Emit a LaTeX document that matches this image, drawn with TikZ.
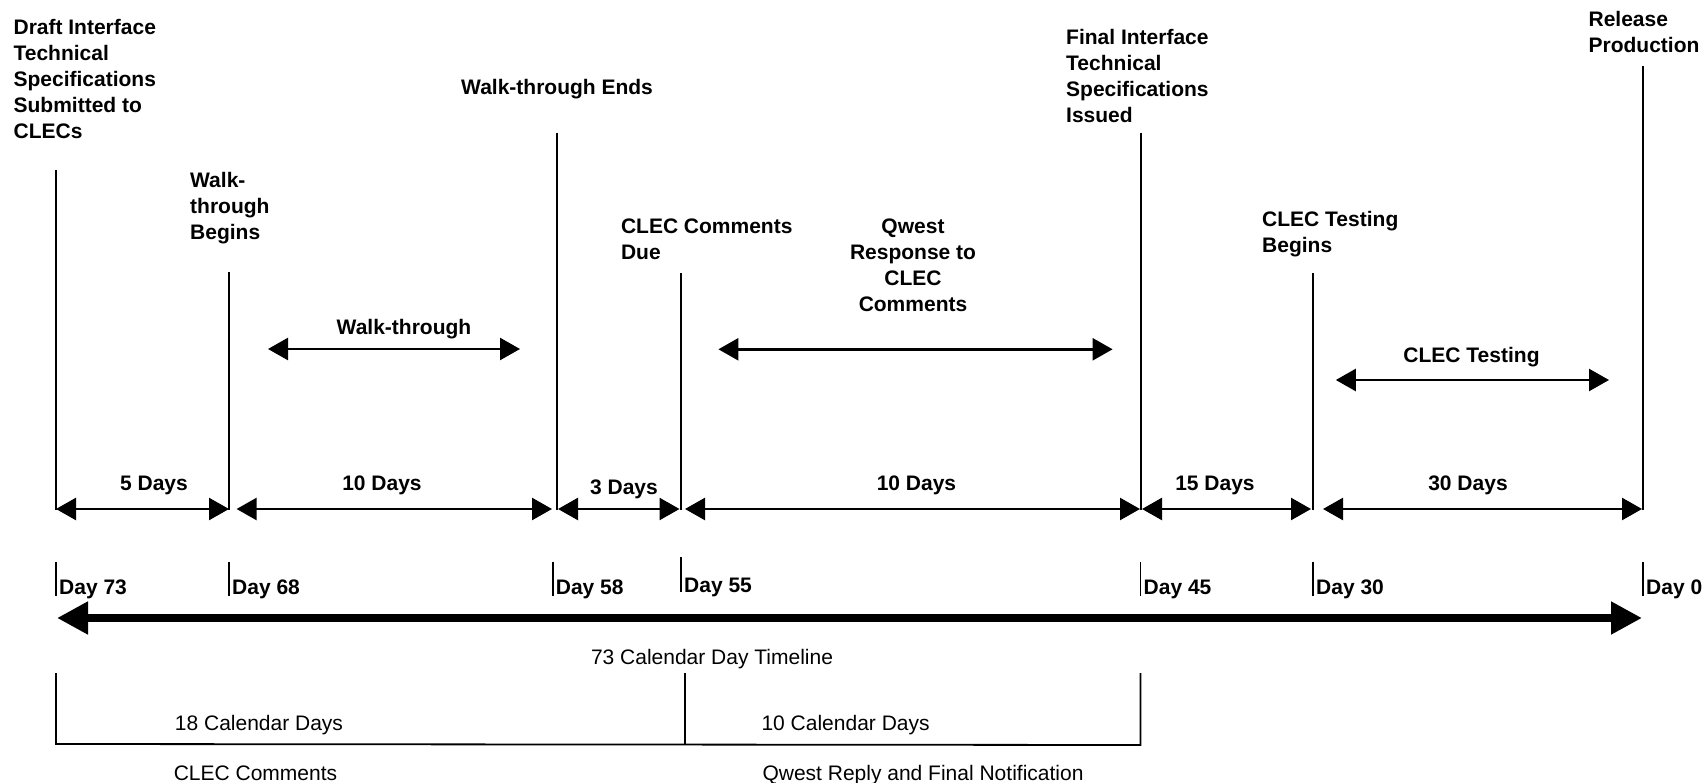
\documentclass[tikz,border=0pt]{standalone}
\usepackage{fontspec}
\setmainfont{Liberation Sans}
\usetikzlibrary{arrows.meta}
\begin{document}
\begin{tikzpicture}[x=1pt,y=-1pt,
  lbl/.style={font=\fontsize{21}{26}\selectfont\bfseries, inner sep=0pt},
  reg/.style={font=\fontsize{21}{26}\selectfont, inner sep=0pt},
  evline/.style={line width=2pt},
  brline/.style={line width=1.8pt},
  tickmark/.style={line width=1.6pt},
  dimarrow/.style={line width=2.5pt, {Triangle[length=20pt,width=22pt]}-{Triangle[length=20pt,width=22pt]}},
  timeline/.style={line width=8pt, {Triangle[length=31pt,width=31pt]}-{Triangle[length=31pt,width=31pt]}}
]
\useasboundingbox (0,0) rectangle (1708,783);

% event lines
\coordinate (e1t) at (56,170);    \coordinate (e1b) at (56,510);
\coordinate (e2t) at (229,272);   \coordinate (e2b) at (229,510);
\coordinate (e3t) at (556.5,133); \coordinate (e3b) at (556.5,510);
\coordinate (e4t) at (681,273);   \coordinate (e4b) at (681,510);
\coordinate (e5t) at (1140.5,133);\coordinate (e5b) at (1140.5,510);
\coordinate (e6t) at (1313,273);  \coordinate (e6b) at (1313,510);
\coordinate (e7t) at (1643,66);   \coordinate (e7b) at (1643,510);
\foreach \i in {1,...,7} \draw[evline] (e\i t) -- (e\i b);

% event labels
\node[lbl, anchor=north west, align=left] (draft) at (13.4,19) {Draft Interface\\Technical\\Specifications\\Submitted to\\CLECs};
\node[lbl, anchor=north west, align=left] (wtb) at (190,172) {Walk-\\through\\Begins};
\node[lbl, anchor=base west] (wte) at (461,94.8) {Walk-through Ends};
\node[lbl, anchor=north west, align=left] (due) at (620.8,219) {CLEC Comments\\Due};
\node[lbl, anchor=north, align=center] (qwest) at (913,219) {Qwest\\Response to\\CLEC\\Comments};
\node[lbl, anchor=north west, align=left] (final) at (1066,29) {Final Interface\\Technical\\Specifications\\Issued};
\node[lbl, anchor=north west, align=left] (ctb) at (1262,211.5) {CLEC Testing\\Begins};
\node[lbl, anchor=north west, align=left] (rel) at (1588.4,11.2) {Release\\Production};

% activity arrows
\node[lbl, anchor=base] (wtl) at (404,334.5) {Walk-through};
\coordinate (wa1) at (268,349);    \coordinate (wa2) at (520,349);
\draw[dimarrow] (wa1) -- (wa2);
\coordinate (qa1) at (718.4,349.3); \coordinate (qa2) at (1112.6,349.3);
\draw[dimarrow] (qa1) -- (qa2);
\node[lbl, anchor=base] (ctl) at (1471.5,362.5) {CLEC Testing};
\coordinate (ta1) at (1335.8,380); \coordinate (ta2) at (1609,380);
\draw[dimarrow] (ta1) -- (ta2);

% duration arrows
\coordinate (d1a) at (56,509);   \coordinate (d1b) at (229,509);
\coordinate (d2a) at (236.6,509);\coordinate (d2b) at (552,509);
\coordinate (d3a) at (558,509);  \coordinate (d3b) at (679.5,509);
\coordinate (d4a) at (685,509);  \coordinate (d4b) at (1140,509);
\coordinate (d5a) at (1142,509); \coordinate (d5b) at (1311,509);
\coordinate (d6a) at (1323,509); \coordinate (d6b) at (1642,509);
\foreach \i in {1,...,6} \draw[dimarrow] (d\i a) -- (d\i b);
\node[lbl, anchor=base] (l1) at (154,490.8) {5 Days};
\node[lbl, anchor=base] (l2) at (382,490.8) {10 Days};
\node[lbl, anchor=base] (l3) at (624,494.5) {3 Days};
\node[lbl, anchor=base] (l4) at (916.5,490.8) {10 Days};
\node[lbl, anchor=base] (l5) at (1215,490.8) {15 Days};
\node[lbl, anchor=base] (l6) at (1468,490.8) {30 Days};

% day ticks
\coordinate (k1t) at (56,562);     \coordinate (k1b) at (56,596);
\coordinate (k2t) at (229,562);    \coordinate (k2b) at (229,596);
\coordinate (k3t) at (552.7,562);  \coordinate (k3b) at (552.7,596);
\coordinate (k4t) at (681,557);    \coordinate (k4b) at (681,592);
\coordinate (k5t) at (1140.5,562); \coordinate (k5b) at (1140.5,596);
\coordinate (k6t) at (1313,562);   \coordinate (k6b) at (1313,596);
\coordinate (k7t) at (1643,562);   \coordinate (k7b) at (1643,596);
\foreach \i in {1,...,7} \draw[tickmark] (k\i t) -- (k\i b);
\node[lbl, anchor=base west] (day73) at (59,594) {Day 73};
\node[lbl, anchor=base west] (day68) at (232,594) {Day 68};
\node[lbl, anchor=base west] (day58) at (555.7,594) {Day 58};
\node[lbl, anchor=base west] (day55) at (684,592) {Day 55};
\node[lbl, anchor=base west] (day45) at (1143.5,594) {Day 45};
\node[lbl, anchor=base west] (day30) at (1316,594) {Day 30};
\node[lbl, anchor=base west] (day0) at (1646,594) {Day 0};

% timeline
\coordinate (tl1) at (57,618); \coordinate (tl2) at (1642,618);
\draw[timeline] (tl1) -- (tl2);
\node[reg, anchor=base] (tltext) at (712,664.2) {73 Calendar Day Timeline};

% bottom bracket
\coordinate (b1t) at (56,673);     \coordinate (b1b) at (56,744);
\coordinate (b2t) at (685,673);    \coordinate (b2b) at (685,743.5);
\coordinate (b3t) at (1140.5,673); \coordinate (b3b) at (1140.5,745);
\draw[brline] (b1t) -- (b1b) -- (b3b) -- (b3t);
\draw[brline] (b2t) -- (b2b);
\node[reg, anchor=base] (cal18) at (259,730.5) {18 Calendar Days};
\node[reg, anchor=base] (cal10) at (845.6,730.5) {10 Calendar Days};
\node[reg, anchor=base] (clecc) at (255.5,780.5) {CLEC Comments};
\node[reg, anchor=base] (qrep) at (923,780.5) {Qwest Reply and Final Notification};
\end{tikzpicture}
\end{document}
